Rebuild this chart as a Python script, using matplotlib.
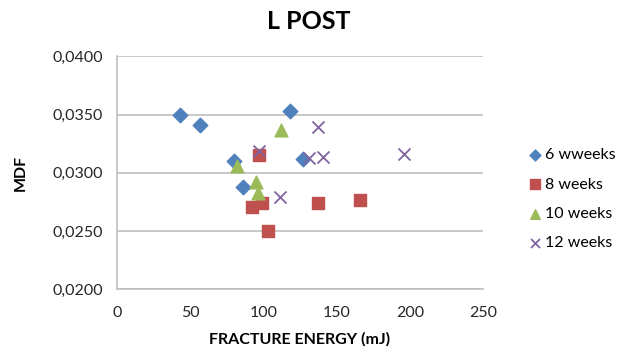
import matplotlib
matplotlib.use("Agg")
import matplotlib.pyplot as plt
from matplotlib.ticker import FuncFormatter

plt.rcParams['font.family'] = ['Lato', 'DejaVu Sans']

# data
x6 = [43, 57, 80, 86, 118, 127]
y6 = [0.0350, 0.0341, 0.0310, 0.0288, 0.0353, 0.0312]

x8 = [92, 97, 99, 103, 137, 166]
y8 = [0.0271, 0.0315, 0.0274, 0.0250, 0.0274, 0.0277]

x10 = [82, 95, 96, 112]
y10 = [0.0306, 0.0292, 0.0283, 0.0337]

x12 = [97, 111, 131, 137, 141, 196]
y12 = [0.0319, 0.0279, 0.0313, 0.0339, 0.0314, 0.0316]

labels = ['6 wweeks', '8 weeks', '10 weeks', '12 weeks']

fig = plt.figure(figsize=(6.18, 3.53), dpi=100)
ax = fig.add_axes([0.189, 0.181, 0.593, 0.659])

ax.scatter(x6, y6, marker='D', s=55, color='#4F81BD', label=labels[0], zorder=3)
ax.scatter(x8, y8, marker='s', s=85, color='#C0504D', label=labels[1], zorder=3)
ax.scatter(x10, y10, marker='^', s=85, color='#9BBB59', label=labels[2], zorder=3)
ax.scatter(x12, y12, marker='x', s=75, color='#8064A2', linewidths=1.3, label=labels[3], zorder=3)

ax.set_xlim(0, 250)
ax.set_ylim(0.02, 0.04)
ax.set_xticks([0, 50, 100, 150, 200, 250])
ax.set_yticks([0.02, 0.025, 0.03, 0.035, 0.04])
ax.yaxis.set_major_formatter(FuncFormatter(lambda v, p: f"{v:.4f}".replace('.', ',')))

ax.grid(axis='y', color='#BFBFBF', linewidth=1.2)
ax.set_axisbelow(True)
for s in ['top', 'right']:
    ax.spines[s].set_visible(False)
for s in ['left', 'bottom']:
    ax.spines[s].set_color('#BFBFBF')
    ax.spines[s].set_linewidth(1.2)
ax.tick_params(length=0, labelsize=11.5, colors='#262626')
ax.tick_params(axis='x', pad=12)
ax.tick_params(axis='y', pad=10)

fig.text(0.5, 0.94, 'L POST', fontsize=18, fontweight='bold', ha='center', va='center')
ax.set_xlabel('FRACTURE ENERGY (mJ)', fontsize=11.5, fontweight='bold', labelpad=9)
ax.set_ylabel('MDF', fontsize=11.5, fontweight='bold', labelpad=18)

ax.legend(loc='center left', bbox_to_anchor=(0.830, 0.436), bbox_transform=fig.transFigure,
          frameon=False, fontsize=11.5, handletextpad=0.1, labelspacing=0.95,
          handlelength=1.0, markerscale=0.75)

fig.savefig('out.png', dpi=100)
